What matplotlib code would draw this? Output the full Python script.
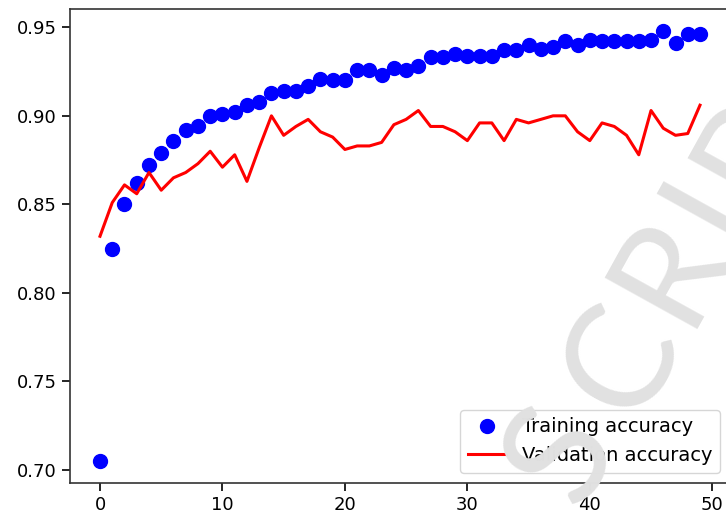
import matplotlib
matplotlib.use('Agg')
import matplotlib.pyplot as plt

# accuracy per epoch
epochs = list(range(50))
train_acc = [0.705, 0.825, 0.850, 0.862, 0.872, 0.879, 0.886, 0.892, 0.894, 0.900,
             0.901, 0.902, 0.906, 0.908, 0.913, 0.914, 0.914, 0.917, 0.921, 0.920,
             0.920, 0.926, 0.926, 0.923, 0.927, 0.926, 0.928, 0.933, 0.933, 0.935,
             0.934, 0.934, 0.934, 0.937, 0.937, 0.940, 0.938, 0.939, 0.942, 0.940,
             0.943, 0.942, 0.942, 0.942, 0.942, 0.943, 0.948, 0.941, 0.946, 0.946]
val_acc = [0.832, 0.851, 0.861, 0.856, 0.868, 0.858, 0.865, 0.868, 0.873, 0.880,
           0.871, 0.878, 0.863, 0.882, 0.900, 0.889, 0.894, 0.898, 0.891, 0.888,
           0.881, 0.883, 0.883, 0.885, 0.895, 0.898, 0.903, 0.894, 0.894, 0.891,
           0.886, 0.896, 0.896, 0.886, 0.898, 0.896, 0.898, 0.900, 0.900, 0.891,
           0.886, 0.896, 0.894, 0.889, 0.878, 0.903, 0.893, 0.889, 0.890, 0.906]
labels = ['Training accuracy', 'Validation accuracy']
watermark = ['S', 'C', 'R', 'I', 'P']
# rough centre of each watermark letter in the screenshot (pixels, top-left origin)
wm_x = [562, 622, 670, 710, 752]
wm_y = [455, 360, 268, 207, 150]

plt.rcParams['font.family'] = ['DejaVu Sans']
plt.rcParams['font.size'] = 13

fig = plt.figure(figsize=(7.26, 5.22), dpi=100)
# the original screenshot is cropped, so the right spine sits just off the edge
ax = fig.add_axes([70 / 726, 39.3 / 522, 660 / 726, 473.4 / 522])

ax.plot(epochs, train_acc, 'bo', markersize=10, label=labels[0])
ax.plot(epochs, val_acc, 'r', linewidth=2.2, label=labels[1])

ax.set_xticks([0, 10, 20, 30, 40, 50])
ax.set_yticks([0.70, 0.75, 0.80, 0.85, 0.90, 0.95])
ax.set_yticklabels(['0.70', '0.75', '0.80', '0.85', '0.90', '0.95'])
ax.tick_params(length=6, width=1.2)
for s in ax.spines.values():
    s.set_linewidth(1.2)
    s.set_color('#333333')
ax.legend(loc='lower right', fontsize=14)

# faint watermark running up the right side, one letter at a time
for ch, px, py in zip(watermark, wm_x, wm_y):
    fig.text(px / 726, 1 - py / 522, ch,
             rotation=61, rotation_mode='anchor', ha='center', va='center',
             fontsize=106, color='#e1e1e1', family=['Lato', 'DejaVu Sans'],
             zorder=10)

plt.savefig('out.png', dpi=100)
